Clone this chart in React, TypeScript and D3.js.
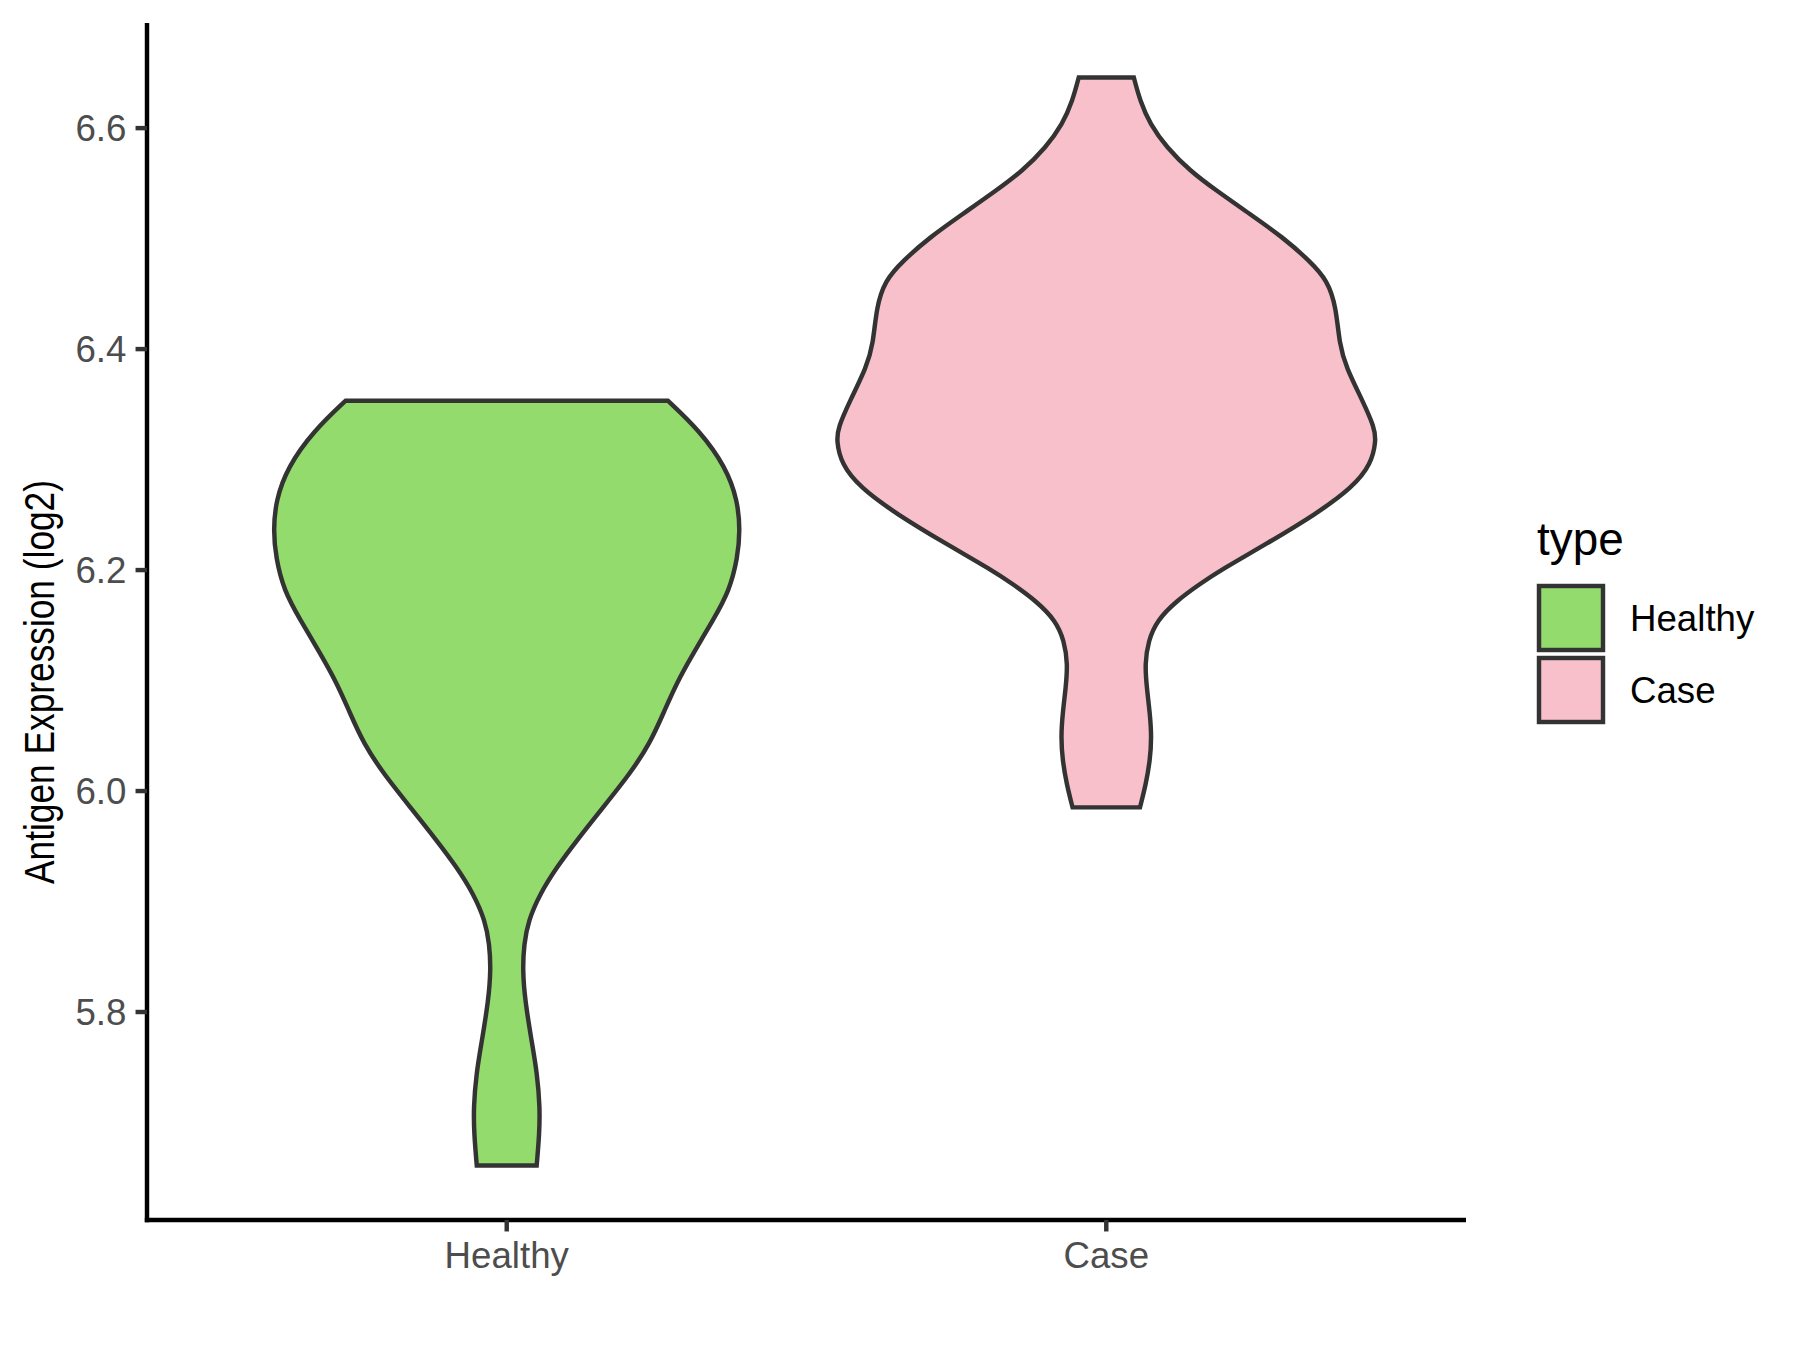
import React from "react";
import * as d3 from "d3";

// ---- data ----
const categories = ["Healthy", "Case"];
const fillColors = ["#93DB6C", "#F7C0CB"];
const legendTitle = "type";
const yAxisTitle = "Antigen Expression (log2)";
const yTicks = [5.8, 6.0, 6.2, 6.4, 6.6];

// violin outline profiles: expression value and relative density (half-width)
const healthyValues = [6.3533, 6.3262, 6.2929, 6.2628, 6.2357, 6.2115, 6.1814, 6.1543, 6.1241, 6.0969, 6.0728, 6.0426, 6.0155, 5.9852, 5.9551, 5.931, 5.9069, 5.8827, 5.8616, 5.8375, 5.8103, 5.7741, 5.744, 5.7138, 5.6897, 5.661];
const healthyDensity = [0.597, 0.715, 0.813, 0.856, 0.865, 0.856, 0.826, 0.764, 0.69, 0.628, 0.585, 0.53, 0.456, 0.357, 0.259, 0.185, 0.123, 0.08, 0.064, 0.059, 0.068, 0.092, 0.113, 0.123, 0.121, 0.111];

const caseValues = [6.6459, 6.6248, 6.6037, 6.5825, 6.5614, 6.5433, 6.5223, 6.5011, 6.48, 6.4619, 6.4377, 6.4046, 6.3834, 6.3533, 6.3291, 6.3171, 6.296, 6.2748, 6.2508, 6.2236, 6.1995, 6.1874, 6.1723, 6.1542, 6.1361, 6.115, 6.0938, 6.0698, 6.0486, 6.0275, 6.0064, 5.9852];
const caseDensity = [0.102, 0.125, 0.162, 0.224, 0.31, 0.409, 0.532, 0.655, 0.753, 0.821, 0.852, 0.864, 0.889, 0.95, 0.994, 1.0, 0.982, 0.913, 0.778, 0.593, 0.421, 0.347, 0.261, 0.187, 0.156, 0.143, 0.15, 0.162, 0.168, 0.162, 0.147, 0.125];

const groupValues = [healthyValues, caseValues];
const groupDensity = [healthyDensity, caseDensity];

export default function App() {
  const W = 1800;
  const H = 1350;
  const left = 147;
  const right = 1466;
  const top = 23;
  const bottom = 1220;
  const font = "'Liberation Sans', Arial, Helvetica, sans-serif";
  const outline = "#333333";
  const lw = 4.45;

  const allVals = groupValues.flat();
  const [vmin, vmax] = d3.extent(allVals) as [number, number];
  const pad = (vmax - vmin) * 0.05;
  const y = d3.scaleLinear().domain([vmin - pad, vmax + pad]).range([bottom, top]);
  const x = d3.scalePoint<string>().domain(categories).range([left, right]).padding(0.6);
  const step = x.step();
  const maxDen = d3.max(groupDensity.flat()) as number;
  const w = d3.scaleLinear().domain([0, maxDen]).range([0, 0.45 * step]);

  const violins = categories.map((cat, i) => {
    const cx = x(cat) as number;
    const pts: [number, number][] = groupValues[i].map((v, j) => [v, groupDensity[i][j]]);
    const area = d3
      .area<[number, number]>()
      .y((d) => y(d[0]))
      .x0((d) => cx - w(d[1]))
      .x1((d) => cx + w(d[1]))
      .curve(d3.curveBasis);
    return (
      <path
        key={cat}
        d={area(pts) || ""}
        fill={fillColors[i]}
        stroke={outline}
        strokeWidth={lw}
        strokeLinejoin="miter"
      />
    );
  });

  const tickFs = 36.67;
  const titleFs = 45.83;
  const yTitleFs = 42;
  const fmt = d3.format(".1f");
  const legendX = 1537;
  const keySize = 72;
  const keyTop = 582;
  const tickLen = 11.46;
  const tickGap = 9.17;

  return (
    <svg
      width={W}
      height={H}
      viewBox={`0 0 ${W} ${H}`}
      style={{ position: "absolute", left: 0, top: 0, display: "block", background: "#fff" }}
      fontFamily={font}
    >
      <rect x={0} y={0} width={W} height={H} fill="#ffffff" />
      {violins}
      {/* axes */}
      <line x1={left} x2={left} y1={top} y2={bottom + lw / 2} stroke="#000" strokeWidth={lw} />
      <line x1={left - lw / 2} x2={right} y1={bottom} y2={bottom} stroke="#000" strokeWidth={lw} />
      {yTicks.map((t) => (
        <g key={t}>
          <line x1={left - tickLen} x2={left} y1={y(t)} y2={y(t)} stroke={outline} strokeWidth={lw} />
          <text
            x={left - tickLen - tickGap}
            y={y(t) + 0.358 * tickFs}
            textAnchor="end"
            fontSize={tickFs}
            fill="#4D4D4D"
          >
            {fmt(t)}
          </text>
        </g>
      ))}
      {categories.map((c) => (
        <g key={c}>
          <line x1={x(c)} x2={x(c)} y1={bottom} y2={bottom + tickLen} stroke={outline} strokeWidth={lw} />
          <text x={x(c)} y={bottom + tickLen + tickGap + 0.716 * tickFs + 1} textAnchor="middle" fontSize={tickFs} fill="#4D4D4D">
            {c}
          </text>
        </g>
      ))}
      <text
        transform={`translate(54, 682) rotate(-90)`}
        textAnchor="middle"
        fontSize={yTitleFs}
        textLength={404}
        lengthAdjust="spacingAndGlyphs"
        fill="#000"
      >
        {yAxisTitle}
      </text>
      {/* legend */}
      <text x={legendX} y={555} fontSize={titleFs} fill="#000">
        {legendTitle}
      </text>
      {categories.map((c, i) => {
        const ky = keyTop + i * keySize;
        return (
          <g key={c}>
            <rect
              x={legendX + 2}
              y={ky + 4}
              width={keySize - 8}
              height={keySize - 8}
              fill={fillColors[i]}
              stroke={outline}
              strokeWidth={lw}
            />
            <text x={1630} y={ky + keySize / 2 + 0.358 * tickFs} fontSize={tickFs} fill="#000">
              {c}
            </text>
          </g>
        );
      })}
    </svg>
  );
}
